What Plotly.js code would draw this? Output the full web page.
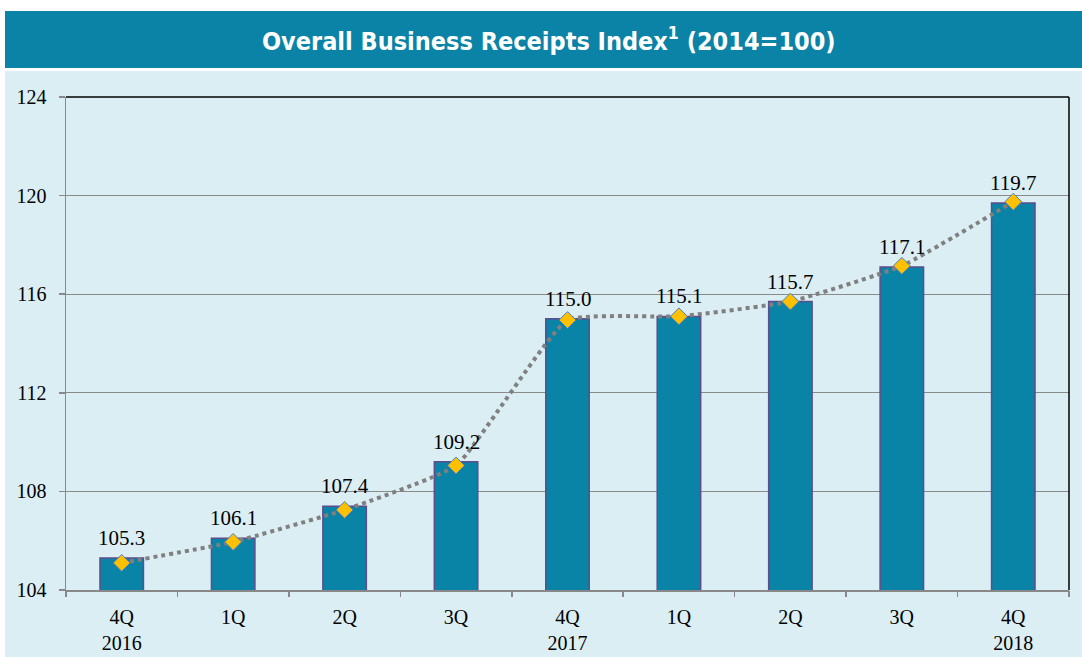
<!DOCTYPE html>
<html>
<head>
<meta charset="utf-8">
<script src="https://cdn.plot.ly/plotly-3.0.1.min.js"></script>
<style>html,body{margin:0;padding:0;background:#fff;}#chart{width:1082px;height:657px;}</style>
</head>
<body>
<div id="chart"></div>
<script>
const quarters = ['4Q','1Q','2Q','3Q','4Q','1Q','2Q','3Q','4Q'];
const years = ['2016','','','','2017','','','','2018'];
const values = [105.3,106.1,107.4,109.2,115.0,115.1,115.7,117.1,119.7];
const trend = [105.1,105.95,107.25,109.05,114.95,115.1,115.7,117.15,119.75];
const yTicks = [104,108,112,116,120,124];

const idx = quarters.map((q,i)=>i);
const tickText = quarters.map((q,i)=> years[i] ? q + '<br>' + years[i] : q);
const bounds = quarters.map((q,i)=>i-0.5).concat([quarters.length-0.5]);

const serif = 'Liberation Serif, Times New Roman, serif';

const traces = [
  {type:'bar', x: idx, y: values, marker:{color:'#0983A6', line:{color:'#5E4C8C', width:1.5}},
   hoverinfo:'skip', showlegend:false},
  {type:'scatter', mode:'lines+markers', x: idx, y: trend,
   line:{color:'#808080', width:4, dash:'dot', shape:'spline', smoothing:0.4},
   marker:{symbol:'diamond', size:13, color:'#FFC000', line:{color:'#4A7EC8', width:1}},
   hoverinfo:'skip', showlegend:false},
  {type:'scatter', mode:'markers', x:[0], y:[104], xaxis:'x2', marker:{opacity:0}, hoverinfo:'skip', showlegend:false}
];

const annotations = values.map((v,i)=>({
  x: i, y: v, xref:'x', yref:'y', text: v.toFixed(1), showarrow:false,
  yanchor:'bottom', yshift:6, font:{family:serif, size:21, color:'#000'}
}));
annotations.push({
  xref:'paper', yref:'paper', x:0.482, y:1.1166, text:'Overall Business Receipts Index<sup>1</sup> (2014=100)',
  showarrow:false, xanchor:'center', yanchor:'middle',
  font:{family:'DejaVu Sans Condensed, Liberation Sans Narrow, Arial Narrow, sans-serif', size:25, color:'#fff', weight:'bold'}
});

const shapes = [
  {type:'rect', xref:'paper', yref:'paper', x0:-0.0608, x1:1.02, y0:-0.1359, y1:1.0527, fillcolor:'#DBEEF4', line:{width:0}, layer:'below'},
  {type:'rect', xref:'paper', yref:'paper', x0:-0.0608, x1:1.02, y0:1.0588, y1:1.1744, fillcolor:'#0A83A6', line:{width:0}, layer:'below'},
  {type:'line', xref:'paper', yref:'paper', x0:0, x1:1, y0:1, y1:1, line:{color:'#000', width:1.5}},
  {type:'line', xref:'paper', yref:'paper', x0:1, x1:1, y0:0, y1:1, line:{color:'#000', width:1.5}}
];

const layout = {
  width:1082, height:657,
  margin:{l:66, r:13, t:97, b:67},
  paper_bgcolor:'#ffffff', plot_bgcolor:'#DBEEF4',
  barmode:'overlay', bargap:0.61,
  xaxis:{range:[-0.5,8.5], tickmode:'array', tickvals: idx, ticktext: tickText, ticks:'',
    showgrid:false, zeroline:false, showline:true, linecolor:'#888', linewidth:1.5, ticklabelstandoff:8,
    tickfont:{family:serif, size:20, color:'#000'}, fixedrange:true},
  xaxis2:{overlaying:'x', anchor:'y', range:[-0.5,8.5], tickmode:'array', tickvals: bounds,
    showticklabels:false, ticks:'outside', ticklen:6, tickcolor:'#888', tickwidth:1.5,
    showgrid:false, zeroline:false, showline:false, side:'bottom'},
  yaxis:{range:[104,124], tickmode:'array', tickvals: yTicks, ticks:'outside', ticklen:6,
    tickcolor:'#888', tickwidth:1.5, showgrid:true, gridcolor:'#8a8a8a', gridwidth:1.2,
    zeroline:false, showline:true, linecolor:'#888', linewidth:1.5, ticklabelstandoff:8,
    tickfont:{family:serif, size:20, color:'#000'}},
  shapes: shapes,
  annotations: annotations,
  showlegend:false
};

Plotly.newPlot('chart', traces, layout, {displayModeBar:false, staticPlot:true});
</script>
</body>
</html>
